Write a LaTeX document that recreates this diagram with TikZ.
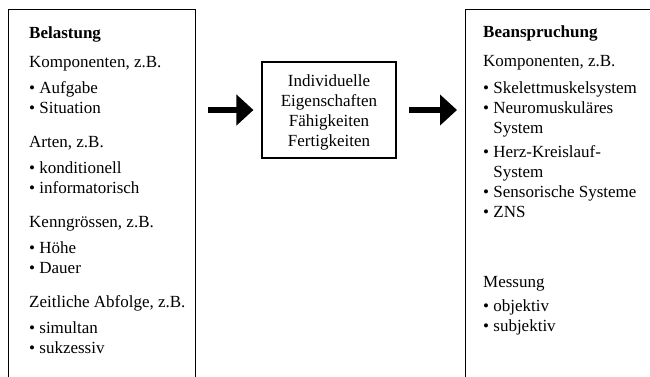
\documentclass[tikz,border=0pt]{standalone}
\usepackage{fontspec}
\setmainfont{Liberation Serif}
\usetikzlibrary{arrows.meta}
\begin{document}
\begin{tikzpicture}[x=1pt,y=-1pt,
  frame/.style={draw, line width=1.1pt, inner sep=0pt},
  txt/.style={anchor=base west, inner sep=0pt, font=\fontsize{17}{20}\selectfont},
  ctxt/.style={anchor=base, inner sep=0pt, font=\fontsize{17}{20}\selectfont},
  bigarrow/.style={line width=6.5pt, -{Triangle[length=17pt,width=30pt]}, shorten <=12pt, shorten >=8pt}]
\useasboundingbox (0,0) rectangle (650,376);
\clip (0,0) rectangle (650,376);
% frames
\node[frame, minimum width=187pt, minimum height=420pt, anchor=north west] (left) at (8,9) {};
\node[frame, minimum width=300pt, minimum height=420pt, anchor=north west] (right) at (465,9) {};
\node[frame, minimum width=134pt, minimum height=96pt] (mid) at (329,110) {};
% left texts
\node[txt] (l1) at (29,38) {\textbf{Belastung}};
\node[txt] (l2) at (29,67) {Komponenten, z.B.};
\node[txt] (l3) at (29,93) {\textbullet\ Aufgabe};
\node[txt] (l4) at (29,113) {\textbullet\ Situation};
\node[txt] (l5) at (29,147) {Arten, z.B.};
\node[txt] (l6) at (29,173) {\textbullet\ konditionell};
\node[txt] (l7) at (29,193) {\textbullet\ informatorisch};
\node[txt] (l8) at (29,227) {Kenngrössen, z.B.};
\node[txt] (l9) at (29,253) {\textbullet\ Höhe};
\node[txt] (l10) at (29,273) {\textbullet\ Dauer};
\node[txt] (l11) at (29,307) {Zeitliche Abfolge, z.B.};
\node[txt] (l12) at (29,333) {\textbullet\ simultan};
\node[txt] (l13) at (29,353) {\textbullet\ sukzessiv};
% middle texts
\node[ctxt] (m1) at (329,86) {Individuelle};
\node[ctxt] (m2) at (329,106) {Eigenschaften};
\node[ctxt] (m3) at (329,126) {Fähigkeiten};
\node[ctxt] (m4) at (329,146) {Fertigkeiten};
% right texts
\node[txt] (r1) at (483,37) {\textbf{Beanspruchung}};
\node[txt] (r2) at (483,66) {Komponenten, z.B.};
\node[txt] (r3) at (483,93) {\textbullet\ Skelettmuskelsystem};
\node[txt] (r4) at (483,113) {\textbullet\ Neuromuskuläres};
\node[txt] (r5) at (483,133) {\phantom{\textbullet\ }System};
\node[txt] (r6) at (483,157) {\textbullet\ Herz-Kreislauf-};
\node[txt] (r7) at (483,177) {\phantom{\textbullet\ }System};
\node[txt] (r8) at (483,197) {\textbullet\ Sensorische Systeme};
\node[txt] (r9) at (483,217) {\textbullet\ ZNS};
\node[txt] (r10) at (483,287) {Messung};
\node[txt] (r11) at (483,311) {\textbullet\ objektiv};
\node[txt] (r12) at (483,331) {\textbullet\ subjektiv};
% arrows
\draw[bigarrow] (left.east |- mid.center) -- (mid.west);
\draw[bigarrow] (mid.east) -- (mid.east -| right.west);
\end{tikzpicture}
\end{document}
